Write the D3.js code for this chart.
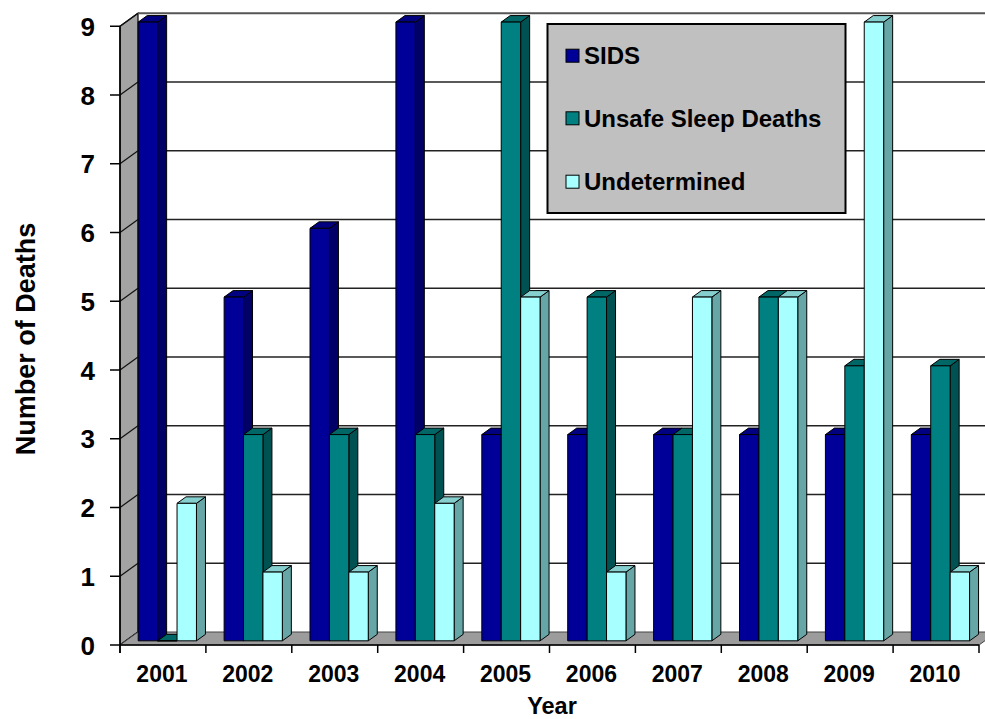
<!DOCTYPE html>
<html>
<head>
<meta charset="utf-8">
<script src="https://cdn.jsdelivr.net/npm/d3@7/dist/d3.min.js"></script>
<style>
  html, body { margin: 0; padding: 0; background: #ffffff; }
  svg { display: block; }
  text { font-family: "Liberation Sans", Arial, sans-serif; font-weight: bold; fill: #000; }
</style>
</head>
<body>
<svg id="chart" width="985" height="719"></svg>
<script>
// Deaths per year by cause
const years = ["2001", "2002", "2003", "2004", "2005", "2006", "2007", "2008", "2009", "2010"];
const seriesNames = ["SIDS", "Unsafe Sleep Deaths", "Undetermined"];
const sids = [9, 5, 6, 9, 3, 3, 3, 3, 3, 3];
const unsafeSleep = [0, 3, 3, 3, 9, 5, 3, 5, 4, 4];
const undetermined = [2, 1, 1, 2, 5, 1, 5, 5, 9, 1];
const yTicks = [0, 1, 2, 3, 4, 5, 6, 7, 8, 9];

const seriesValues = [sids, unsafeSleep, undetermined];
// front, side, top shades for each series
const palette = [
  { front: "#000099", side: "#000066", top: "#000080" },
  { front: "#008080", side: "#005252", top: "#006666" },
  { front: "#a8ffff", side: "#66a6a6", top: "#86cfcf" }
];

const svg = d3.select("#chart");

// front plane of the plot box and the depth direction of the 3D box
const left = 120, right = 979, bottom = 645;
const depthX = 18, depthY = -13;
const proj = (x, y, z) => [x + z * depthX, y + z * depthY];

const x0 = d3.scaleBand().domain(years).range([left, right]).paddingInner(0).paddingOuter(0);
const x1 = d3.scaleBand().domain(seriesNames)
  .range([x0.bandwidth() * 0.145, x0.bandwidth() * 0.823]).padding(0);
const y = d3.scaleLinear().domain([0, 9]).range([bottom, 26.25]);

const poly = pts => pts.map(p => p.join(",")).join(" ");

// left wall
svg.append("polygon")
  .attr("points", poly([proj(left, y(9), 0), proj(left, y(9), 1), proj(left, y(0), 1), proj(left, y(0), 0)]))
  .attr("fill", "#a3a3a3").attr("stroke", "#000").attr("stroke-width", 1.2);

// gridlines on the back wall plus their diagonals across the left wall
const grid = svg.append("g");
yTicks.forEach(v => {
  const a = proj(left, y(v), 0), b = proj(left, y(v), 1), c = proj(right, y(v), 1);
  grid.append("line").attr("x1", a[0]).attr("y1", a[1]).attr("x2", b[0]).attr("y2", b[1])
    .attr("stroke", "#111").attr("stroke-width", 1.2);
  if (v > 0) {
    grid.append("line").attr("x1", b[0]).attr("y1", b[1]).attr("x2", c[0] + 20).attr("y2", c[1])
      .attr("stroke", v === 9 ? "#555" : "#222").attr("stroke-width", v === 9 ? 2 : 1.5);
  }
});

// floor
svg.append("polygon")
  .attr("points", poly([proj(left, y(0), 0), proj(right, y(0), 0), proj(right, y(0), 1), proj(left, y(0), 1)]))
  .attr("fill", "#9c9c9c").attr("stroke", "#444").attr("stroke-width", 1);

// axis lines and ticks
const axes = svg.append("g").attr("stroke", "#000").attr("stroke-width", 1.5);
axes.append("line").attr("x1", left).attr("y1", y(9)).attr("x2", left).attr("y2", bottom + 8);
axes.append("line").attr("x1", left).attr("y1", bottom).attr("x2", right).attr("y2", bottom);
yTicks.forEach(v => {
  axes.append("line").attr("x1", left - 10).attr("y1", y(v)).attr("x2", left).attr("y2", y(v));
});
years.concat([null]).forEach((yr, i) => {
  const xx = yr === null ? right : x0(yr);
  axes.append("line").attr("x1", xx).attr("y1", bottom).attr("x2", xx).attr("y2", bottom + 8);
});

// bars, drawn left to right so later bars sit in front of earlier side faces
const z0 = 0.32, z1 = 0.82;
const barW = x1.bandwidth();
const bars = svg.append("g").attr("stroke", "#000").attr("stroke-width", 1).attr("stroke-linejoin", "round");
years.forEach((yr, i) => {
  seriesNames.forEach((s, k) => {
    const v = seriesValues[k][i];
    const col = palette[k];
    const xa = x0(yr) + x1(s), xb = xa + barW;
    const yt = y(v), yb = y(0);
    const f = [proj(xa, yt, z0), proj(xb, yt, z0), proj(xb, yb, z0), proj(xa, yb, z0)];
    const sd = [proj(xb, yt, z0), proj(xb, yt, z1), proj(xb, yb, z1), proj(xb, yb, z0)];
    const tp = [proj(xa, yt, z0), proj(xa, yt, z1), proj(xb, yt, z1), proj(xb, yt, z0)];
    bars.append("polygon").attr("points", poly(sd)).attr("fill", col.side);
    bars.append("polygon").attr("points", poly(tp)).attr("fill", col.top);
    bars.append("polygon").attr("points", poly(f)).attr("fill", col.front);
  });
});

// y tick labels
svg.append("g").selectAll("text").data(yTicks).join("text")
  .attr("x", 95).attr("y", d => y(d) + 9.5)
  .attr("text-anchor", "end").attr("font-size", 26)
  .text(d => d);

// year labels
svg.append("g").selectAll("text").data(years).join("text")
  .attr("x", d => x0(d) + x0.bandwidth() / 2 - 1).attr("y", 681.5)
  .attr("text-anchor", "middle").attr("font-size", 23)
  .text(d => d);

// axis titles
svg.append("text").attr("x", 552).attr("y", 714).attr("text-anchor", "middle")
  .attr("font-size", 23.5).text("Year");
svg.append("text").attr("transform", "translate(35,339) rotate(-90)")
  .attr("text-anchor", "middle").attr("font-size", 27).text("Number of Deaths");

// legend
const legend = svg.append("g");
legend.append("rect").attr("x", 547.5).attr("y", 24).attr("width", 298).attr("height", 189)
  .attr("fill", "#c0c0c0").attr("stroke", "#000").attr("stroke-width", 2);
const rowY = [55.7, 118.3, 181.7];
seriesNames.forEach((s, k) => {
  legend.append("rect").attr("x", 566).attr("y", rowY[k] - 6.5).attr("width", 13).attr("height", 13)
    .attr("fill", palette[k].front).attr("stroke", "#000").attr("stroke-width", 1);
  legend.append("text").attr("x", 584).attr("y", rowY[k] + 8.5).attr("font-size", 24).text(s);
});
</script>
</body>
</html>
